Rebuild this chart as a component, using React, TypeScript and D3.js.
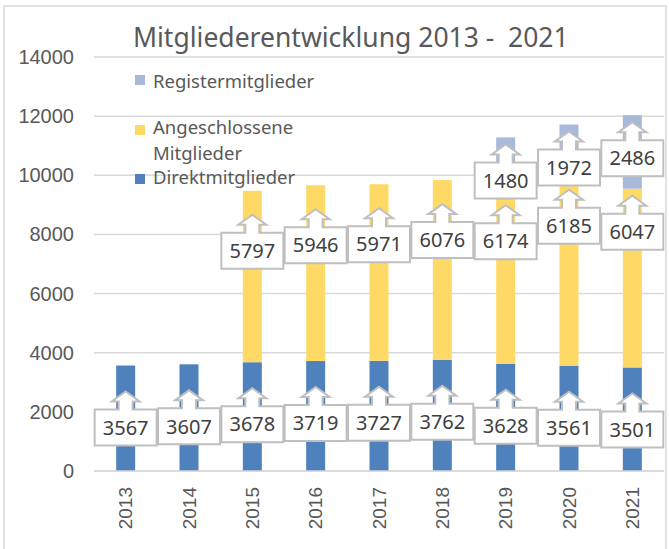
import { useEffect } from 'react'
import * as d3 from 'd3'

const YEARS = ['2013', '2014', '2015', '2016', '2017', '2018', '2019', '2020', '2021']
const DIREKT = [3567, 3607, 3678, 3719, 3727, 3762, 3628, 3561, 3501]
const ANGESCHLOSSEN = [0, 0, 5797, 5946, 5971, 6076, 6174, 6185, 6047]
const REGISTER = [0, 0, 0, 0, 0, 0, 1480, 1972, 2486]
const Y_TICKS = [0, 2000, 4000, 6000, 8000, 10000, 12000, 14000]

const W = 669
const H = 549
const PLOT = { left: 94, right: 664, top: 57, bottom: 471 }
const BLUE = '#4F81BD'
const YELLOW = '#FFD966'
const LIGHT = '#A9B9D9'
const GRID = '#D9D9D9'
const TEXT = '#595959'
const LABEL_TEXT = '#404040'
const BOX_STROKE = '#BFBFBF'
const SANS = "'Noto Sans', sans-serif"
const ARIAL = "'Liberation Sans', Arial, sans-serif"

// callouts for the yellow segment in 2020/2021 sit higher in the original
const LIFT: Record<string, number> = { '2020': 17, '2021': 17 }

function calloutPath(cx: number, cy: number) {
  const bw = 31
  const bh = 18
  const bt = cy - bh
  return [
    `M${cx - bw},${bt}`,
    `L${cx - 7},${bt}`,
    `L${cx - 7},${bt - 8}`,
    `L${cx - 14},${bt - 8}`,
    `L${cx},${bt - 18}`,
    `L${cx + 14},${bt - 8}`,
    `L${cx + 7},${bt - 8}`,
    `L${cx + 7},${bt}`,
    `L${cx + bw},${bt}`,
    `L${cx + bw},${cy + bh}`,
    `L${cx - bw},${cy + bh}`,
    'Z',
  ].join(' ')
}

export default function App() {
  useEffect(() => {
    document.body.style.margin = '0'
  }, [])

  const x = d3.scaleBand().domain(YEARS).range([PLOT.left, PLOT.right]).paddingInner(0.7).paddingOuter(0.35)
  const y = d3.scaleLinear().domain([0, 14000]).range([PLOT.bottom, PLOT.top])
  const bw = x.bandwidth()

  const rows = YEARS.map((year, i) => ({
    year,
    d: DIREKT[i],
    a: ANGESCHLOSSEN[i],
    r: REGISTER[i],
  }))

  const labels: { key: string; cx: number; cy: number; v: number }[] = []
  rows.forEach((row) => {
    const cx = x(row.year)! + bw / 2
    labels.push({ key: row.year + 'd', cx, cy: y(row.d) + 62, v: row.d })
    if (row.a > 0) {
      labels.push({ key: row.year + 'a', cx, cy: y(row.d + row.a) + 60 - (LIFT[row.year] ?? 0), v: row.a })
    }
    if (row.r > 0) {
      labels.push({ key: row.year + 'r', cx, cy: y(row.d + row.a + row.r) + 43, v: row.r })
    }
  })

  return (
    <svg width={W} height={H} style={{ display: 'block', background: '#fff' }}>
      <rect x={4} y={6} width={662} height={570} fill="#fff" stroke={GRID} strokeWidth={1.5} />

      <text x={133} y={47} fontFamily={SANS} fontSize={26.5} fill={TEXT} style={{ whiteSpace: 'pre' }}>
        {'Mitgliederentwicklung 2013 -  2021'}
      </text>

      {Y_TICKS.map((t) => (
        <g key={t}>
          <line x1={PLOT.left} x2={PLOT.right} y1={y(t)} y2={y(t)} stroke={GRID} strokeWidth={1.5} />
          <text x={74} y={y(t)} dy="0.35em" textAnchor="end" fontFamily={ARIAL} fontSize={20} fill={TEXT}>
            {t}
          </text>
        </g>
      ))}

      {rows.map((row) => (
        <g key={row.year}>
          <rect x={x(row.year)} width={bw} y={y(row.d)} height={y(0) - y(row.d)} fill={BLUE} />
          {row.a > 0 && (
            <rect x={x(row.year)} width={bw} y={y(row.d + row.a)} height={y(row.d) - y(row.d + row.a)} fill={YELLOW} />
          )}
          {row.r > 0 && (
            <rect
              x={x(row.year)}
              width={bw}
              y={y(row.d + row.a + row.r)}
              height={y(row.d + row.a) - y(row.d + row.a + row.r)}
              fill={LIGHT}
            />
          )}
          <text
            transform={`translate(${x(row.year)! + bw / 2},487) rotate(-90)`}
            textAnchor="end"
            dy="0.35em"
            fontFamily={ARIAL}
            fontSize={19}
            fill={TEXT}
          >
            {row.year}
          </text>
        </g>
      ))}

      <line x1={PLOT.left} x2={PLOT.right} y1={y(0)} y2={y(0)} stroke={GRID} strokeWidth={1.5} />

      {labels.map((l) => (
        <g key={l.key}>
          <path d={calloutPath(l.cx, l.cy)} fill="#fff" stroke={BOX_STROKE} strokeWidth={2} />
          <text x={l.cx} y={l.cy} dy="0.36em" textAnchor="middle" fontFamily={SANS} fontSize={20} fill={LABEL_TEXT}>
            {l.v}
          </text>
        </g>
      ))}

      <g fontFamily={SANS} fontSize={18.5} fill={TEXT}>
        <rect x={135} y={75} width={10} height={10} fill={LIGHT} />
        <text x={153} y={88}>Registermitglieder</text>
        <rect x={135} y={125} width={10} height={10} fill={YELLOW} />
        <text x={153} y={134}>Angeschlossene</text>
        <text x={153} y={160}>Mitglieder</text>
        <rect x={135} y={174} width={10} height={10} fill={BLUE} />
        <text x={153} y={184}>Direktmitglieder</text>
      </g>
    </svg>
  )
}
